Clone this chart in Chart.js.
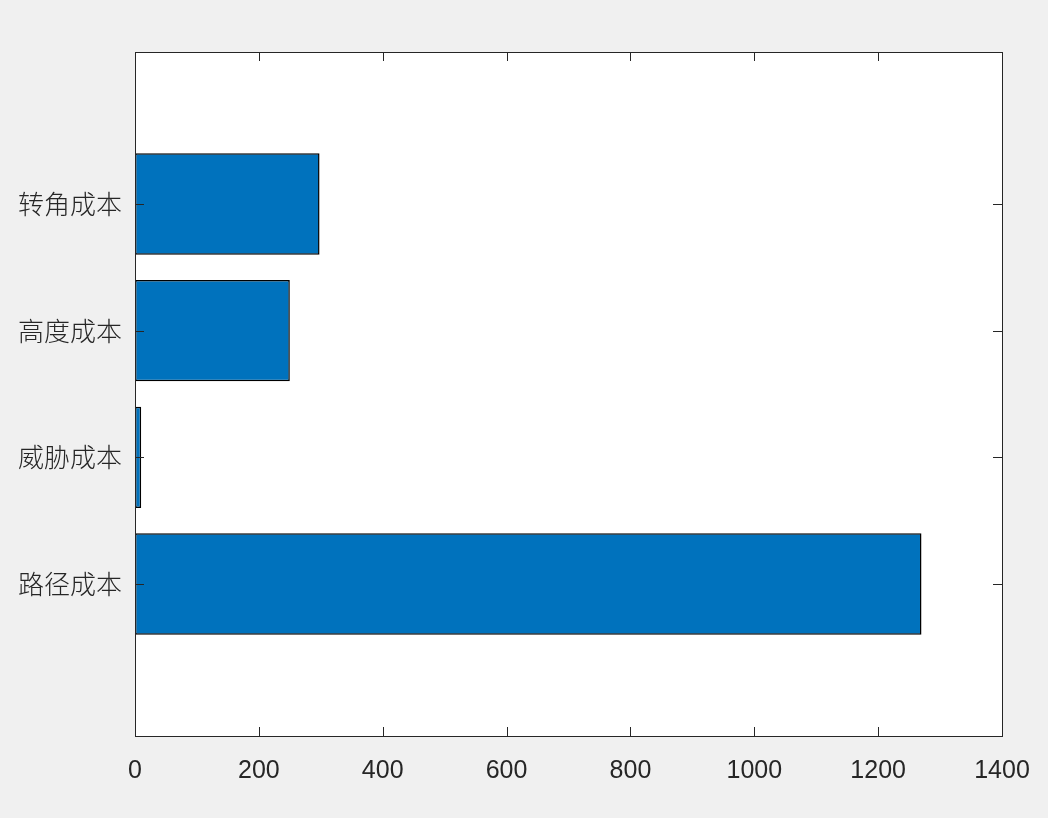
<!DOCTYPE html>
<html>
<head>
<meta charset="utf-8">
<script src="https://cdn.jsdelivr.net/npm/chart.js@4/dist/chart.umd.min.js"></script>
<style>
  html, body { margin: 0; padding: 0; background: #f0f0f0; }
  #wrap { width: 1048px; height: 818px; }
</style>
</head>
<body>
<div id="wrap"><canvas id="c" width="1048" height="818"></canvas></div>
<script>
const categories = ['路径成本', '威胁成本', '高度成本', '转角成本'];
const costValues = [1270, 10, 250, 298];
const xTicks = [0, 200, 400, 600, 800, 1000, 1200, 1400];

const PLOT = { left: 135, top: 52, right: 1002, bottom: 736 };
const AXIS_COLOR = '#262626';

const framePlugin = {
  id: 'frame',
  beforeDraw(chart) {
    const { ctx, chartArea: a } = chart;
    ctx.save();
    ctx.fillStyle = '#ffffff';
    ctx.fillRect(a.left, a.top, a.right - a.left, a.bottom - a.top);
    ctx.restore();
  },
  afterDraw(chart) {
    const { ctx, chartArea: a, scales } = chart;
    ctx.save();
    ctx.strokeStyle = AXIS_COLOR;
    ctx.lineWidth = 1;
    ctx.strokeRect(Math.round(a.left) + 0.5, Math.round(a.top) + 0.5,
                   Math.round(a.right - a.left), Math.round(a.bottom - a.top));
    const L = 9;
    ctx.beginPath();
    scales.x.ticks.forEach(t => {
      const px = Math.round(scales.x.getPixelForValue(t.value)) + 0.5;
      ctx.moveTo(px, a.bottom); ctx.lineTo(px, a.bottom - L);
      ctx.moveTo(px, a.top); ctx.lineTo(px, a.top + L);
    });
    scales.y.ticks.forEach(t => {
      const py = Math.round(scales.y.getPixelForValue(t.value)) + 0.5;
      ctx.moveTo(a.left, py); ctx.lineTo(a.left + L, py);
      ctx.moveTo(a.right, py); ctx.lineTo(a.right - L, py);
    });
    ctx.stroke();
    ctx.restore();
  }
};

new Chart(document.getElementById('c'), {
  type: 'bar',
  data: {
    datasets: [{
      data: costValues.map((v, i) => ({ x: v, y: i + 1 })),
      backgroundColor: '#0072BD',
      borderColor: '#000000',
      borderWidth: 1.5,
      borderSkipped: false,
      barPercentage: 0.8,
      categoryPercentage: 1.0
    }]
  },
  options: {
    indexAxis: 'y',
    responsive: false,
    animation: false,
    devicePixelRatio: 1,
    layout: { padding: { left: 0, top: PLOT.top, right: 1048 - PLOT.right, bottom: 0 } },
    plugins: { legend: { display: false }, tooltip: { enabled: false } },
    scales: {
      x: {
        type: 'linear',
        min: 0, max: 1400,
        offset: false,
        afterBuildTicks(s) { s.ticks = xTicks.map(v => ({ value: v })); },
        afterFit(s) { s.height = 818 - PLOT.bottom; s.paddingLeft = 0; s.paddingRight = 0; },
        grid: { display: false, drawTicks: false, offset: false },
        border: { display: false },
        ticks: {
          color: AXIS_COLOR,
          padding: 20,
          maxRotation: 0,
          callback: (v) => String(v),
          font: { family: '"Liberation Sans", Arial, sans-serif', size: 25 }
        }
      },
      y: {
        type: 'linear',
        min: -0.2, max: 5.2,
        offset: false,
        afterBuildTicks(s) { s.ticks = categories.map((c, i) => ({ value: i + 1 })); },
        afterFit(s) { s.width = PLOT.left; s.paddingTop = 0; s.paddingBottom = 0; },
        grid: { display: false, drawTicks: false, offset: false },
        border: { display: false },
        ticks: {
          color: AXIS_COLOR,
          padding: 13,
          callback: (v) => categories[v - 1] || '',
          font: { family: '"Noto Sans CJK SC", sans-serif', size: 26, weight: 300 }
        }
      }
    }
  },
  plugins: [framePlugin]
});
</script>
</body>
</html>
